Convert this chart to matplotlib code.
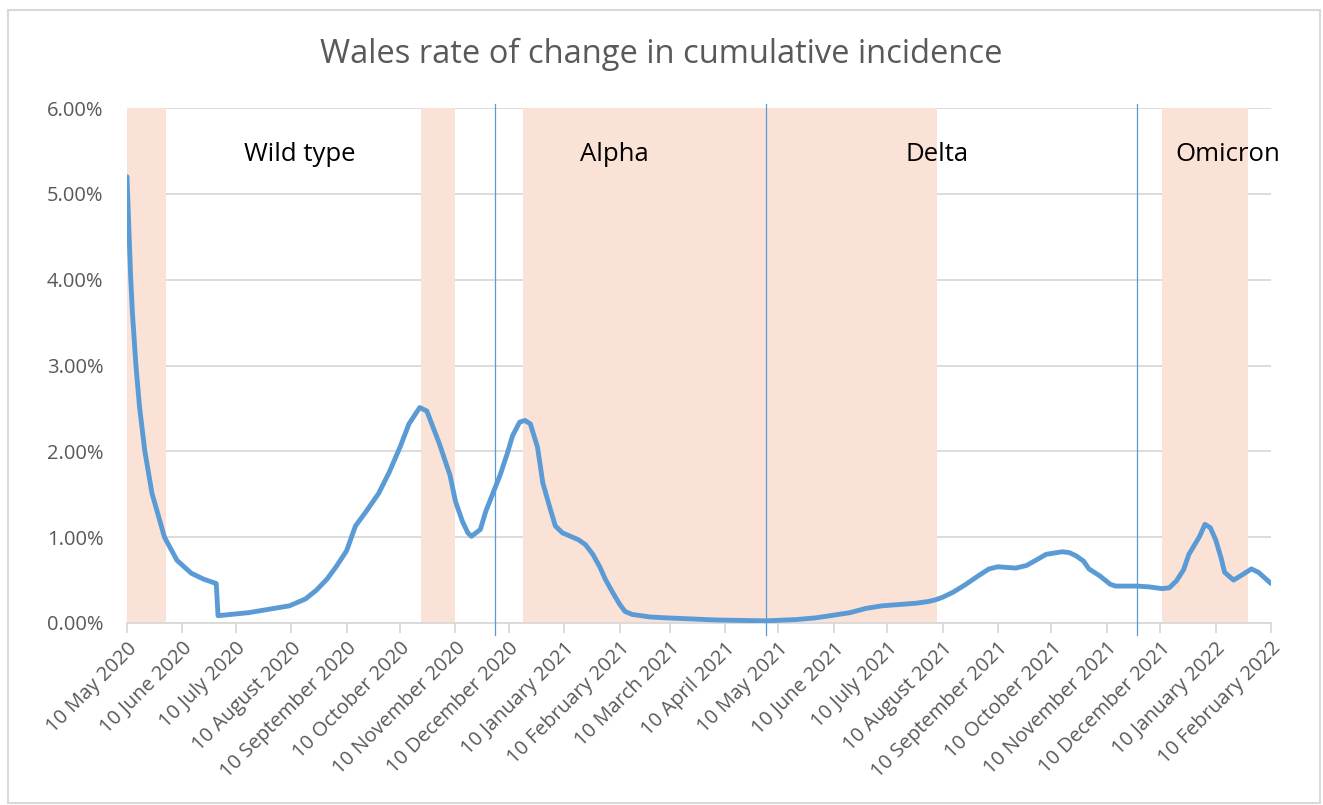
import numpy as np
import pandas as pd
import matplotlib
matplotlib.use("Agg")
import matplotlib.pyplot as plt
from matplotlib.patches import Rectangle
from matplotlib.ticker import FuncFormatter

plt.rcParams['font.family'] = ['Open Sans', 'DejaVu Sans']

# rate of change in cumulative incidence (percent)
dates = pd.to_datetime([
    "2020-05-10", "2020-05-11", "2020-05-12", "2020-05-13", "2020-05-15",
    "2020-05-17", "2020-05-20", "2020-05-24", "2020-05-31", "2020-06-07",
    "2020-06-15", "2020-06-22", "2020-06-29", "2020-06-30", "2020-07-17",
    "2020-08-09", "2020-08-18", "2020-08-24", "2020-08-30", "2020-09-04",
    "2020-09-10", "2020-09-15", "2020-09-21", "2020-09-28", "2020-10-04",
    "2020-10-10", "2020-10-15", "2020-10-21", "2020-10-25", "2020-11-01",
    "2020-11-07", "2020-11-10", "2020-11-14", "2020-11-17", "2020-11-19",
    "2020-11-24", "2020-11-27", "2020-12-01", "2020-12-05", "2020-12-09",
    "2020-12-12", "2020-12-16", "2020-12-19", "2020-12-22", "2020-12-26",
    "2020-12-29", "2021-01-02", "2021-01-05", "2021-01-09", "2021-01-18",
    "2021-01-22", "2021-01-26", "2021-01-30", "2021-02-02", "2021-02-06",
    "2021-02-10", "2021-02-13", "2021-02-17", "2021-02-27", "2021-03-08",
    "2021-04-05", "2021-05-03", "2021-05-20", "2021-05-31", "2021-06-19",
    "2021-06-28", "2021-07-07", "2021-07-26", "2021-08-02", "2021-08-06",
    "2021-08-10", "2021-08-16", "2021-08-23", "2021-08-30", "2021-09-05",
    "2021-09-10", "2021-09-20", "2021-09-26", "2021-10-02", "2021-10-07",
    "2021-10-16", "2021-10-20", "2021-10-24", "2021-10-28", "2021-10-31",
    "2021-11-06", "2021-11-12", "2021-11-15", "2021-11-27", "2021-12-04",
    "2021-12-11", "2021-12-15", "2021-12-19", "2021-12-23", "2021-12-26",
    "2022-01-01", "2022-01-04", "2022-01-07", "2022-01-10", "2022-01-13",
    "2022-01-15", "2022-01-20", "2022-01-24", "2022-01-30", "2022-02-03",
    "2022-02-10",
])
rate = [
    5.20, 4.62, 4.05, 3.62, 3.00,
    2.52, 2.00, 1.51, 1.00, 0.73,
    0.58, 0.51, 0.46, 0.085, 0.12,
    0.20, 0.28, 0.38, 0.51, 0.65,
    0.84, 1.13, 1.30, 1.51, 1.76,
    2.05, 2.32, 2.51, 2.47, 2.09,
    1.72, 1.42, 1.18, 1.05, 1.01,
    1.09, 1.30, 1.51, 1.72, 1.97,
    2.18, 2.34, 2.36, 2.32, 2.05,
    1.63, 1.34, 1.13, 1.05, 0.97,
    0.91, 0.80, 0.65, 0.51, 0.36,
    0.22, 0.135, 0.10, 0.07, 0.06,
    0.035, 0.025, 0.04, 0.06, 0.12,
    0.17, 0.20, 0.23, 0.25, 0.27,
    0.30, 0.36, 0.45, 0.55, 0.63,
    0.655, 0.64, 0.67, 0.74, 0.80,
    0.83, 0.82, 0.78, 0.72, 0.63,
    0.55, 0.45, 0.43, 0.43, 0.42,
    0.40, 0.41, 0.49, 0.62, 0.80,
    1.01, 1.15, 1.11, 0.97, 0.76,
    0.59, 0.50, 0.55, 0.63, 0.59,
    0.46,
]

# shaded periods where a new variant was taking over
band_starts = ["2020-05-10", "2020-10-22", "2020-12-18", "2021-12-11"]
band_ends = ["2020-06-01", "2020-11-10", "2021-08-07", "2022-01-28"]

# dividing lines between the dominant variants
marker_dates = ["2020-12-02", "2021-05-03", "2021-11-27"]

variant_names = ["Wild type", "Alpha", "Delta", "Omicron"]
variant_label_dates = ["2020-08-15", "2021-02-07", "2021-08-07", "2022-01-17"]

tick_dates = pd.date_range("2020-05-01", "2022-02-10", freq="MS") + pd.Timedelta(days=9)

gray_text = "#595959"
grid_gray = "#D9D9D9"
line_blue = "#5B9BD5"
band_color = "#FAE3D6"

fig = plt.figure(figsize=(13.23, 8.05), dpi=100)
ax = fig.add_axes([0.096, 0.2261, 0.8647, 0.6397])

# chart border
fig.patches.append(Rectangle((8 / 1323, 2 / 805), 1312 / 1323, 793 / 805,
                             transform=fig.transFigure, fill=False,
                             edgecolor=grid_gray, linewidth=1.5))

for s, e in zip(band_starts, band_ends):
    ax.axvspan(pd.Timestamp(s), pd.Timestamp(e), color=band_color, lw=0, zorder=1)

ax.plot(dates, rate, color=line_blue, lw=3.5, solid_joinstyle="round",
        solid_capstyle="round", zorder=3)

for d in marker_dates:
    ax.plot([pd.Timestamp(d), pd.Timestamp(d)], [-0.14, 6.05], color=line_blue,
            lw=0.9, clip_on=False, zorder=4)

for name, d in zip(variant_names, variant_label_dates):
    ax.text(pd.Timestamp(d), 5.46, name, ha="center", va="center", fontsize=18.5,
            color="black", clip_on=False, zorder=5)

ax.set_xlim(pd.Timestamp("2020-05-10"), pd.Timestamp("2022-02-10"))
ax.set_ylim(0, 6)
ax.set_yticks(np.arange(0, 7, 1))
ax.yaxis.set_major_formatter(FuncFormatter(lambda v, p: f"{v:.2f}%"))
ax.set_xticks(tick_dates)
ax.set_xticklabels([d.strftime("%d %B %Y").lstrip("0") for d in tick_dates],
                   rotation=45, ha="right", rotation_mode="anchor")

ax.grid(axis="y", color=grid_gray, lw=1.3, zorder=0)
ax.set_axisbelow(True)
for side in ["top", "right", "left"]:
    ax.spines[side].set_visible(False)
ax.spines["bottom"].set_color(grid_gray)
ax.spines["bottom"].set_linewidth(1.3)
ax.tick_params(axis="x", colors=grid_gray, length=7, width=1.3, labelcolor=gray_text,
               labelsize=14.5, pad=4)
ax.tick_params(axis="y", length=0, labelcolor=gray_text, labelsize=14.5, pad=17)

fig.text(0.5, 0.933, "Wales rate of change in cumulative incidence", ha="center",
         va="center", fontsize=23.5, color=gray_text)

fig.savefig("out.png", dpi=100)
